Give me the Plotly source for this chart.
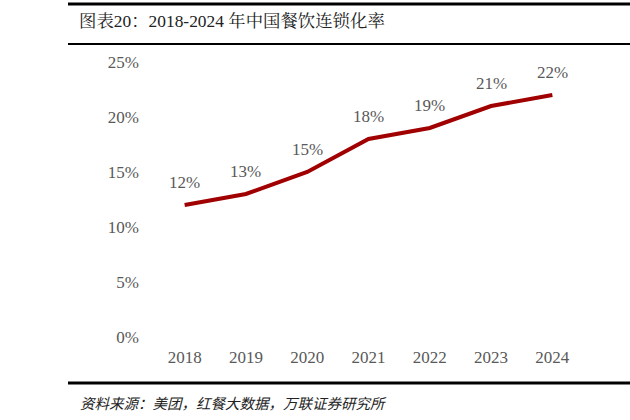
import plotly.graph_objects as go

years = ["2018", "2019", "2020", "2021", "2022", "2023", "2024"]
rates = [12, 13, 15, 18, 19, 21, 22]
labels = ["12%", "13%", "15%", "18%", "19%", "21%", "22%"]
y_ticks = [0, 5, 10, 15, 20, 25]
y_tick_text = ["0%", "5%", "10%", "15%", "20%", "25%"]

W, H = 630, 420
L, R, T, B = 154, 47, 62, 83
PW, PH = W - L - R, H - T - B

def px(x):
    return (x - L) / PW

def py(y):
    return (H - B - y) / PH

serif = "Liberation Serif, Times New Roman, serif"
gray = "#595959"

fig = go.Figure()
fig.add_trace(go.Scatter(
    x=years, y=rates, mode="lines",
    line=dict(color="#A00000", width=4),
    cliponaxis=False, hoverinfo="skip",
))

shapes = [
    dict(type="line", xref="paper", yref="paper", x0=px(68), x1=px(630), y0=py(4), y1=py(4),
         line=dict(color="black", width=3)),
    dict(type="line", xref="paper", yref="paper", x0=px(68), x1=px(630), y0=py(44), y1=py(44),
         line=dict(color="black", width=2)),
    dict(type="line", xref="paper", yref="paper", x0=px(68), x1=px(630), y0=py(383), y1=py(383),
         line=dict(color="black", width=3)),
]

annotations = [
    dict(text="图表20：2018-2024 年中国餐饮连锁化率", xref="paper", yref="paper",
         x=px(77), y=py(21), xanchor="left", yanchor="middle", showarrow=False,
         font=dict(family="Liberation Serif, Noto Serif CJK SC, Noto Sans CJK SC", size=17.4, color="#222222")),
    dict(text="<i>资料来源：美团，红餐大数据，万联证券研究所</i>", xref="paper", yref="paper",
         x=px(78), y=py(402), xanchor="left", yanchor="middle", showarrow=False,
         font=dict(family="Noto Sans CJK SC", size=14.5, color="#222222")),
]
for i, (v, lab) in enumerate(zip(rates, labels)):
    annotations.append(dict(text=lab, x=i, y=v, xref="x", yref="y", showarrow=False,
                            xanchor="center", yanchor="middle", yshift=23,
                            font=dict(family=serif, size=17, color=gray)))

fig.update_layout(
    width=W, height=H,
    margin=dict(l=L, r=R, t=T, b=B),
    paper_bgcolor="white", plot_bgcolor="white",
    showlegend=False,
    shapes=shapes, annotations=annotations,
    xaxis=dict(type="category", range=[-0.5, 6.5], showgrid=False, zeroline=False,
               showline=False, ticks="", tickfont=dict(family=serif, size=17, color=gray),
               ticklabelstandoff=8),
    yaxis=dict(range=[0, 25], tickvals=y_ticks, ticktext=y_tick_text, showgrid=False,
               zeroline=False, showline=False, ticks="",
               tickfont=dict(family=serif, size=17, color=gray), ticklabelstandoff=14),
)

fig.write_html("out.html")
